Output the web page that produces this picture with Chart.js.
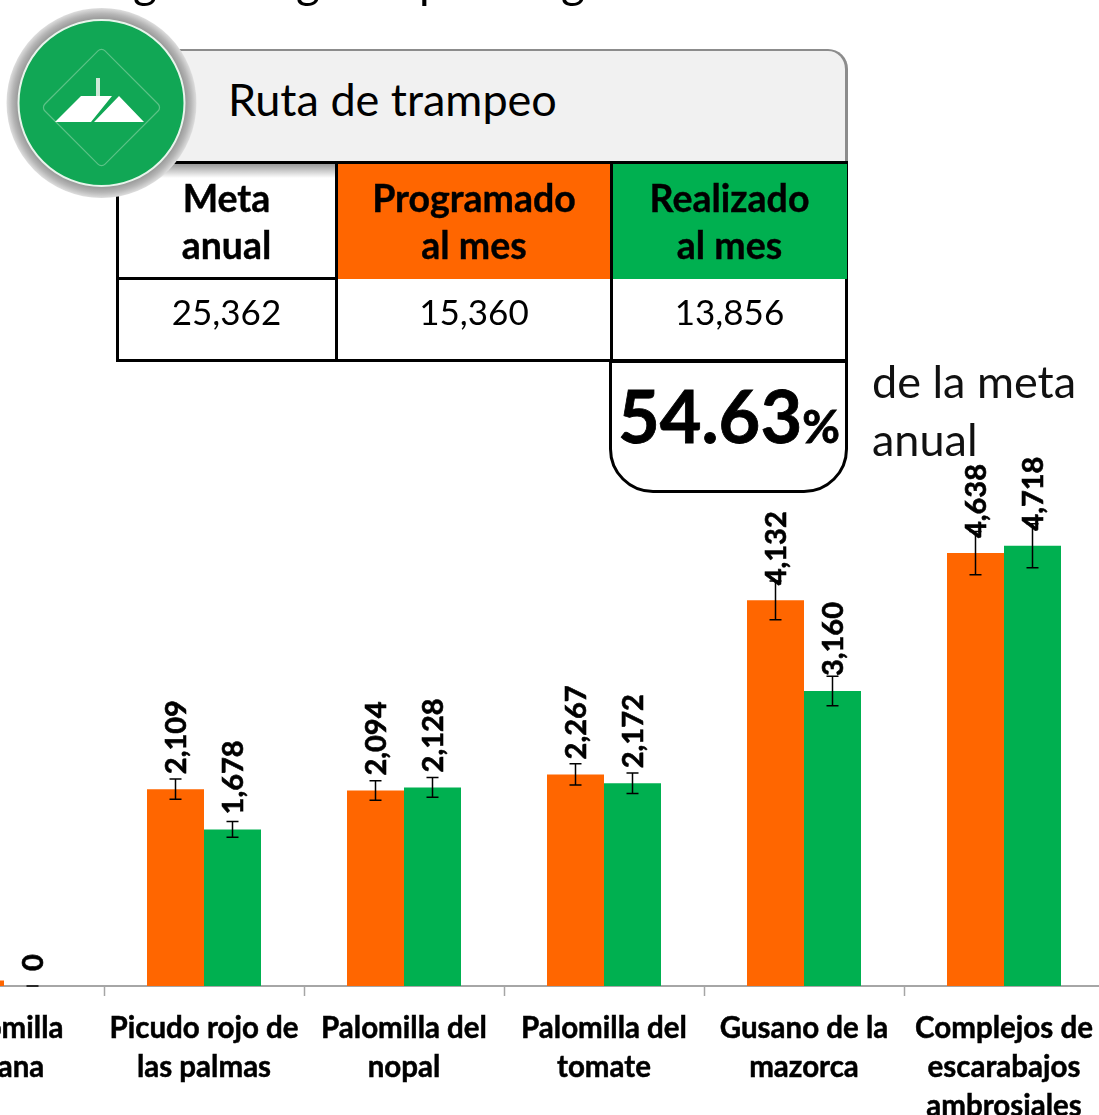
<!DOCTYPE html>
<html lang="es">
<head>
<meta charset="utf-8">
<script src="https://cdn.jsdelivr.net/npm/chart.js@4"></script>
<style>
html,body{margin:0;padding:0;background:#fff;width:1099px;height:1115px;overflow:hidden}
body{position:relative;font-family:Lato,"Open Sans",sans-serif;color:#000}
#wrap{position:absolute;left:-96px;top:0;width:1200px;height:1115px}
.a{position:absolute;box-sizing:border-box}
.t{position:absolute;white-space:nowrap;text-align:center;line-height:1}
.hd{font-weight:700;font-size:37.5px;line-height:47px;display:flex;align-items:center;justify-content:center;text-align:center;-webkit-text-stroke:.4px #000}
.val{font-size:35px;display:flex;align-items:center;justify-content:center}
</style>
</head>
<body>
<div id="wrap"><canvas id="c" width="1200" height="1115"></canvas></div>

<span class="t" style="left:133px;top:-42px;font-size:46px">g</span>
<span class="t" style="left:296px;top:-42px;font-size:46px">g</span>
<span class="t" style="left:419px;top:-42px;font-size:46px">p</span>
<span class="t" style="left:561px;top:-42px;font-size:46px">g</span>

<!-- title card -->
<div class="a" style="left:170px;top:49px;width:678px;height:114px;background:#F1F1F1;border-top:2px solid #8c8c8c;border-right:3px solid #8c8c8c;border-top-right-radius:20px;"></div>
<span class="t" style="left:228px;top:77px;font-size:45px;color:#000">Ruta de trampeo</span>

<!-- table -->
<div class="a" style="left:116px;top:163px;width:732px;height:199px;background:#fff;border:3px solid #000"></div>
<div class="a" style="left:336px;top:164px;width:276px;height:115px;background:#FF6600"></div>
<div class="a" style="left:612px;top:164px;width:235px;height:115px;background:#00B050"></div>
<div class="a" style="left:116px;top:161px;width:732px;height:3px;background:#000"></div>
<div class="a" style="left:116px;top:277px;width:220px;height:3px;background:#000"></div>
<div class="a" style="left:335px;top:163px;width:3px;height:199px;background:#000"></div>
<div class="a" style="left:610px;top:163px;width:3px;height:199px;background:#000"></div>
<div class="a" style="left:137px;top:164px;width:198px;height:14px;background:linear-gradient(#9a9a9a,#fff)"></div>
<div class="a hd" style="left:117px;top:174px;width:219px;height:94px">Meta<br>anual</div>
<div class="a hd" style="left:336px;top:174px;width:276px;height:94px">Programado<br>al mes</div>
<div class="a hd" style="left:612px;top:174px;width:235px;height:94px">Realizado<br>al mes</div>
<div class="a val" style="left:117px;top:278px;width:219px;height:66px">25,362</div>
<div class="a val" style="left:336px;top:278px;width:276px;height:66px">15,360</div>
<div class="a val" style="left:612px;top:278px;width:235px;height:66px">13,856</div>

<!-- percentage box -->
<div class="a" style="left:609px;top:360px;width:239px;height:133px;background:#fff;border:3px solid #000;border-bottom-left-radius:44px;border-bottom-right-radius:44px"></div>
<span class="t" style="left:618px;top:379px;font-size:72px;font-weight:700;-webkit-text-stroke:.8px #000">54.63<span style="font-size:46px">%</span></span>
<span class="t" style="left:872px;top:352px;font-size:45px;color:#111;text-align:left;line-height:58px">de la meta<br>anual</span>

<!-- logo -->
<svg class="a" style="left:5px;top:8px" width="194" height="192" viewBox="0 0 194 192">
  <defs><radialGradient id="ring" cx="50%" cy="50%" r="50%">
    <stop offset="86%" stop-color="#8f8f8f"/><stop offset="94%" stop-color="#b5b5b5"/><stop offset="100%" stop-color="#dedede"/>
  </radialGradient></defs>
  <circle cx="96.5" cy="95" r="95" fill="url(#ring)"/>
  <circle cx="96.5" cy="95" r="83" fill="#11A755" stroke="#e8f5ec" stroke-width="2"/>
  <rect x="54" y="57" width="85" height="85" rx="5" transform="rotate(45 96.5 99.5)" fill="none" stroke="#5cc287" stroke-width="1.2"/>
  <rect x="91" y="70" width="4" height="18" fill="#cfe9d9"/>
  <path d="M50 114 L76 88 L107 88 L86 114 Z M89 114 L114 88 L139 114 Z" fill="#fff"/>
</svg>

<script>
const categories = [["Palomilla","gitana"],["Picudo rojo de","las palmas"],["Palomilla del","nopal"],["Palomilla del","tomate"],["Gusano de la","mazorca"],["Complejos de","escarabajos","ambrosiales"]];
const programado = [58, 2109, 2094, 2267, 4132, 4638];
const realizado  = [0, 1678, 2128, 2172, 3160, 4718];
const errProgramado = [3, 108, 105, 113, 207, 232];
const errRealizado  = [0, 84, 106, 109, 158, 236];
const seriesErrors = [errProgramado, errRealizado];
const COLORS = ["#FF6600", "#00B050"];

const marksPlugin = {
  id: "marks",
  afterDatasetsDraw(chart) {
    const { ctx, scales: { y } } = chart;
    chart.data.datasets.forEach((ds, i) => {
      chart.getDatasetMeta(i).data.forEach((bar, j) => {
        const v = ds.data[j], e = seriesErrors[i][j];
        const top = y.getPixelForValue(v + e), bot = y.getPixelForValue(v - e);
        ctx.save();
        ctx.strokeStyle = "#000"; ctx.lineWidth = 1.5;
        ctx.beginPath();
        ctx.moveTo(bar.x, top); ctx.lineTo(bar.x, bot);
        ctx.moveTo(bar.x - 6, top); ctx.lineTo(bar.x + 6, top);
        ctx.moveTo(bar.x - 6, bot); ctx.lineTo(bar.x + 6, bot);
        ctx.stroke();
        ctx.restore();
        ctx.save();
        ctx.translate(bar.x + 1, bar.y - 15);
        ctx.rotate(-Math.PI / 2);
        ctx.font = "700 29px Lato";
        ctx.fillStyle = "#000";
        ctx.strokeStyle = "#000"; ctx.lineWidth = 0.6;
        ctx.textAlign = "left"; ctx.textBaseline = "middle";
        const s = v.toLocaleString("en-US");
        ctx.fillText(s, 0, 0);
        ctx.strokeText(s, 0, 0);
        ctx.restore();
      });
    });
  }
};

new Chart(document.getElementById("c"), {
  type: "bar",
  data: {
    labels: categories,
    datasets: [
      { label: "Programado al mes", data: programado, backgroundColor: COLORS[0] },
      { label: "Realizado al mes", data: realizado, backgroundColor: COLORS[1] }
    ]
  },
  options: {
    responsive: false,
    animation: false,
    layout: { padding: { top: 426, left: 0, right: 0, bottom: 0 } },
    plugins: { legend: { display: false }, tooltip: { enabled: false } },
    datasets: { bar: { categoryPercentage: 0.57, barPercentage: 1 } },
    scales: {
      x: {
        afterFit(s) { s.height = 129; s.paddingLeft = 0; s.paddingRight = 0; },
        grid: { drawOnChartArea: false, drawTicks: true, tickLength: 10, tickColor: "#A6A6A6", tickWidth: 1.5 },
        border: { color: "#A6A6A6", width: 2 },
        ticks: { color: "#000", font: { family: "Lato", weight: "700", size: 29.5, lineHeight: 1.32 }, textStrokeColor: "#000", textStrokeWidth: 0.5, maxRotation: 0, autoSkip: false, padding: 13 }
      },
      y: { display: false, min: 0, max: 6000 }
    }
  },
  plugins: [marksPlugin]
});
</script>
</body>
</html>
